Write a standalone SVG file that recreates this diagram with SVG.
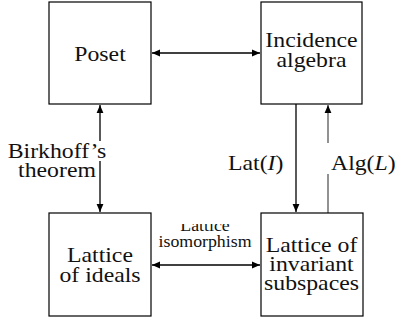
<svg xmlns="http://www.w3.org/2000/svg" width="400" height="322" viewBox="0 0 400 322">
<style>
.box{fill:#fff;stroke:#000;stroke-width:1.2}
.t{font-family:"Liberation Serif","Times New Roman","DejaVu Serif",serif;font-size:22px;fill:#111;text-anchor:middle}
.s{font-family:"Liberation Serif","Times New Roman","DejaVu Serif",serif;font-size:16.5px;fill:#111;text-anchor:middle}
.c{fill:none;stroke:#000;stroke-width:1.3}
.g{fill:none;stroke:#777;stroke-width:1.6}
</style>
<defs>
<marker id="ah" viewBox="0 0 8 8" refX="8" refY="4" markerWidth="8" markerHeight="8" markerUnits="userSpaceOnUse" orient="auto-start-reverse">
<path d="M0,0.6 L8,4 L0,7.4 Z" fill="#000"/>
</marker>
<clipPath id="lc"><rect x="140" y="224" width="130" height="40"/></clipPath>
</defs>
<g id="connectors">
<line class="c" x1="152" y1="53" x2="260" y2="53" marker-start="url(#ah)" marker-end="url(#ah)"/>
<line class="c" x1="152" y1="265" x2="260" y2="265" marker-start="url(#ah)" marker-end="url(#ah)"/>
<line class="c" x1="100" y1="105" x2="100" y2="212" marker-start="url(#ah)" marker-end="url(#ah)"/>
<line class="c" x1="296" y1="104" x2="296" y2="212" stroke-width="1" marker-end="url(#ah)"/>
<line class="g" x1="328" y1="213" x2="328" y2="174"/>
<line class="g" x1="328" y1="143" x2="328" y2="105" marker-end="url(#ah)"/>
<g id="label-birkhoff">
<rect x="8" y="141" width="99" height="20" fill="#fff"/>
<text class="t" font-family="Liberation Serif, Times New Roman, DejaVu Serif, serif" transform="translate(57 157.5) scale(1.08 1)">Birkhoff’s</text>
<text class="t" font-family="Liberation Serif, Times New Roman, DejaVu Serif, serif" transform="translate(57 176.5) scale(1.08 1)">theorem</text>
</g>
<g id="label-lat">
<text class="t" style="text-anchor:start" transform="translate(228 170) scale(1.08 1)">Lat(<tspan font-style="italic">I</tspan>)</text>
</g>
<g id="label-alg">
<text class="t" style="text-anchor:start" transform="translate(331 170) scale(1.08 1)">Alg(<tspan font-style="italic">L</tspan>)</text>
</g>
<g id="label-iso" clip-path="url(#lc)">
<text class="s" transform="translate(205 231) scale(1.08 1)">Lattice</text>
<text class="s" transform="translate(205 246.5) scale(1.08 1)">isomorphism</text>
</g>
</g>
<g id="poset">
<rect class="box" x="49" y="2" width="102" height="102"/>
<text class="t" transform="translate(100 61) scale(1.08 1)">Poset</text>
</g>
<g id="incidence">
<rect class="box" x="261" y="2" width="101" height="102"/>
<text class="t" transform="translate(311.5 47.3) scale(1.08 1)">Incidence</text>
<text class="t" transform="translate(311.5 66.7) scale(1.08 1)">algebra</text>
</g>
<g id="ideals">
<rect class="box" x="49" y="213" width="102" height="103"/>
<text class="t" transform="translate(100 261.7) scale(1.08 1)">Lattice</text>
<text class="t" transform="translate(100 281.7) scale(1.08 1)">of ideals</text>
</g>
<g id="subspaces">
<rect class="box" x="261" y="213" width="102" height="103"/>
<text class="t" transform="translate(311.5 251.7) scale(1.08 1)">Lattice of</text>
<text class="t" transform="translate(311.5 271.2) scale(1.08 1)">invariant</text>
<text class="t" transform="translate(311.5 290) scale(1.08 1)">subspaces</text>
</g>
</svg>
